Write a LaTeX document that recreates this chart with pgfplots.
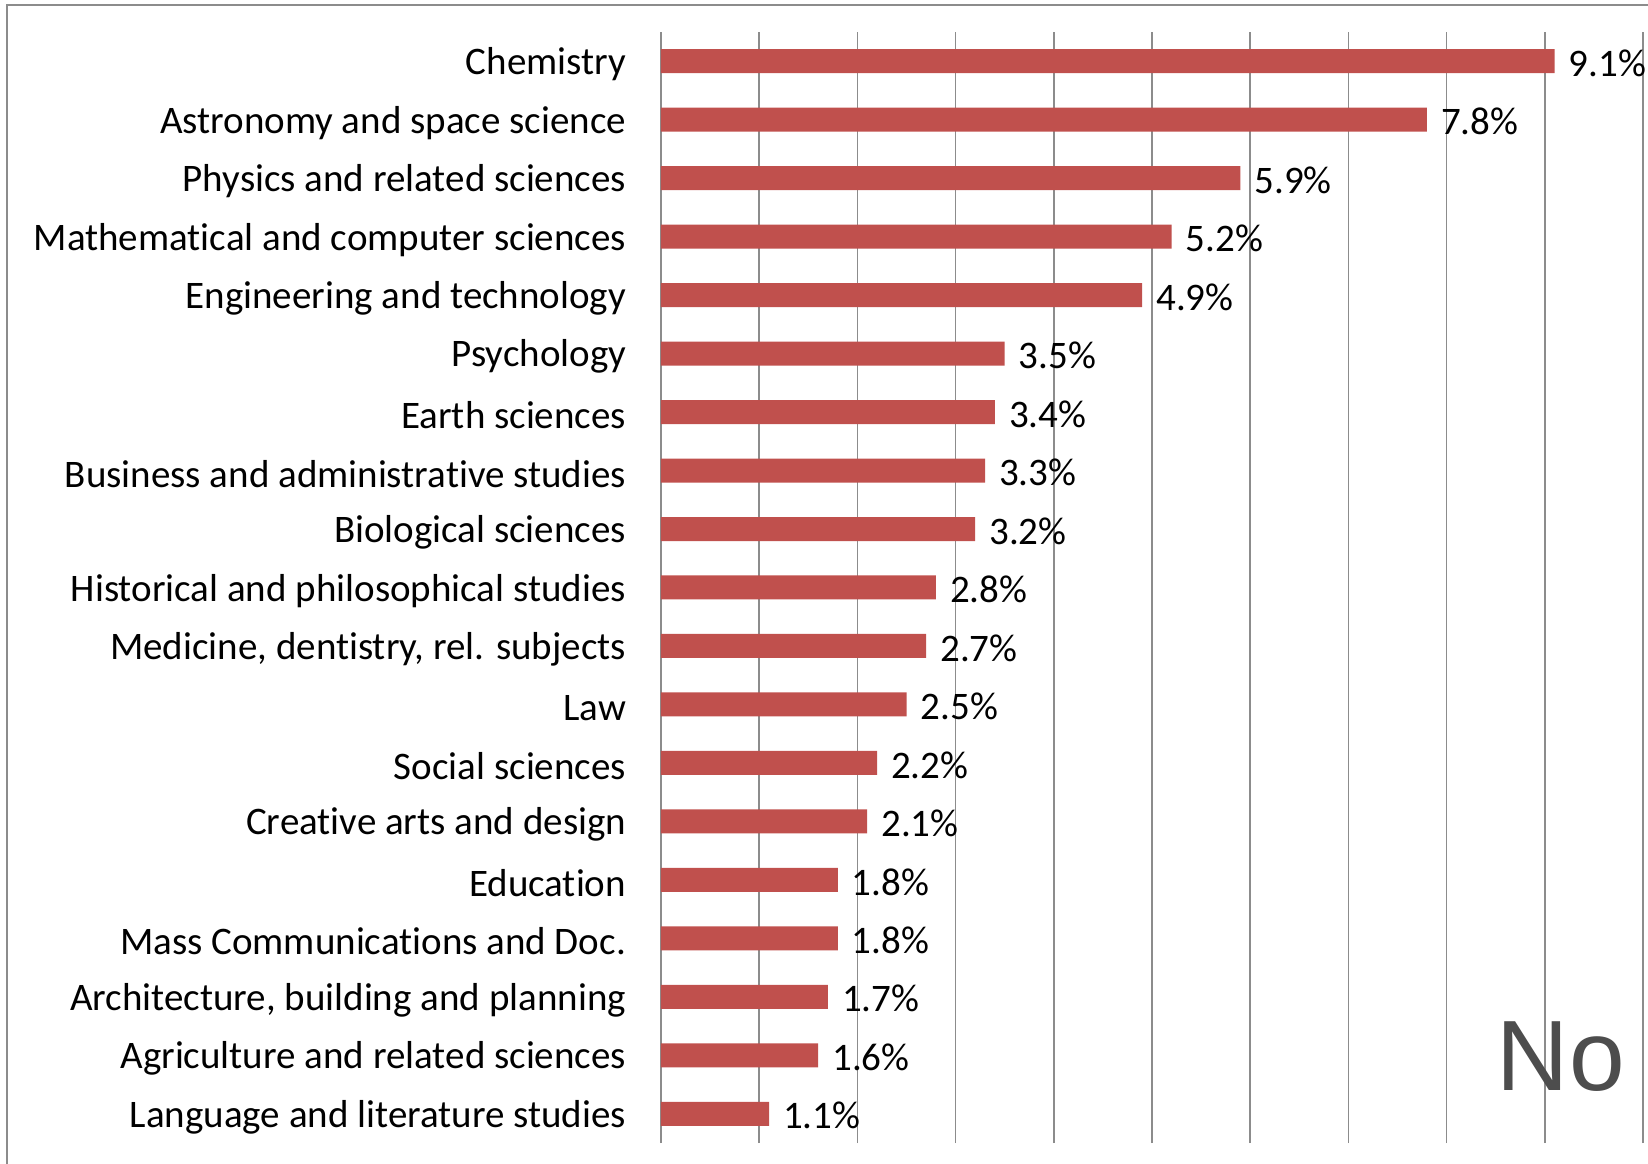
\documentclass[border=0pt]{standalone}
\usepackage{pgfplots}
\pgfplotsset{compat=1.18}
\usepackage{fontspec}
\setmainfont{Carlito}[Ligatures={NoCommon}]
\newfontfamily\arialfont{Liberation Sans}
\definecolor{barred}{HTML}{C0504D}
\definecolor{gridgray}{HTML}{8C8C8C}
\definecolor{nogray}{HTML}{4D4D4D}
\begin{document}
\begin{tikzpicture}
\useasboundingbox (0pt,0pt) rectangle (412pt,-291pt);
\draw[gridgray, line width=0.4pt] (1.75pt,-291pt) -- (1.75pt,-1.25pt) -- (412pt,-1.25pt);
\begin{axis}[
    at={(165.25pt,-285.75pt)}, anchor=south west,
    width=245.5pt, height=277.75pt, scale only axis,
    xmin=0, xmax=10, ymin=-0.5, ymax=18.5,
    xtick={0,...,10}, xticklabels={},
    xmajorgrids, grid style={gridgray, line width=0.4pt},
    major tick length=0pt,
    axis line style={draw=none},
    ytick={0,...,18},
    yticklabels={Language and literature studies, Agriculture and related sciences,
      {Architecture, building and planning}, Mass Communications and Doc., Education,
      Creative arts and design, Social sciences, Law, {Medicine, dentistry, rel. subjects},
      Historical and philosophical studies, Biological sciences,
      Business and administrative studies, Earth sciences, Psychology,
      Engineering and technology, Mathematical and computer sciences,
      Physics and related sciences, Astronomy and space science, Chemistry},
    yticklabel style={font=\fontsize{9.75}{12}\selectfont, xshift=-5.2pt, yshift=-0.8pt},
    xbar, bar width=6pt,
    point meta=x,
    nodes near coords={\pgfmathprintnumber[fixed,fixed zerofill,precision=1,assume math mode=true]{\pgfplotspointmeta}\%},
    nodes near coords style={font=\fontsize{9.75}{12}\selectfont, anchor=west, yshift=-0.5pt},
    clip=false,
]
\addplot[fill=barred, draw=none] coordinates {
    (1.1,0) (1.6,1) (1.7,2) (1.8,3) (1.8,4) (2.1,5) (2.2,6) (2.5,7) (2.7,8)
    (2.8,9) (3.2,10) (3.3,11) (3.4,12) (3.5,13) (4.9,14) (5.2,15) (5.9,16)
    (7.8,17) (9.1,18)
};
\end{axis}
\node[anchor=base west, inner sep=0pt, text=nogray, font=\arialfont\fontsize{25}{30}\selectfont] at (374pt,-272.5pt) {No};
\end{tikzpicture}
\end{document}
